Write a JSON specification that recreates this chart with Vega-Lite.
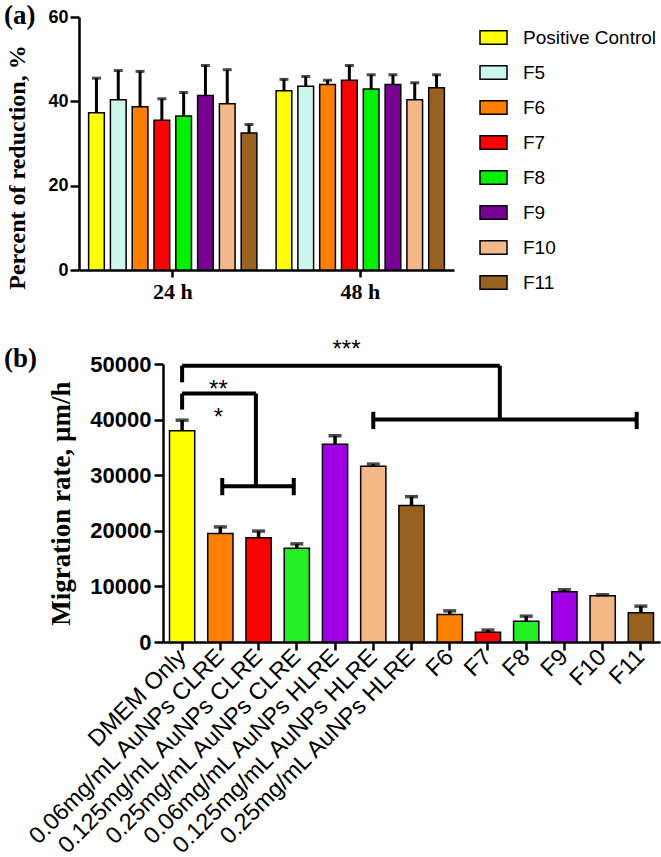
{
  "$schema": "https://vega.github.io/schema/vega-lite/v6.json",
  "padding": {"left": 4, "top": 2, "right": 0, "bottom": 0},
  "background": "white",
  "config": {
    "view": {"stroke": null},
    "axis": {"domainColor": "black", "domainWidth": 2.5, "tickColor": "black", "tickWidth": 2.5, "grid": false, "labelColor": "black", "titleColor": "black"}
  },
  "datasets": {
    "reduction": [
      {"time": "24 h", "formulation": "Positive Control", "mean": 37.3, "upper": 45.5},
      {"time": "24 h", "formulation": "F5", "mean": 40.4, "upper": 47.3},
      {"time": "24 h", "formulation": "F6", "mean": 38.7, "upper": 47.1},
      {"time": "24 h", "formulation": "F7", "mean": 35.5, "upper": 40.6},
      {"time": "24 h", "formulation": "F8", "mean": 36.5, "upper": 42.1},
      {"time": "24 h", "formulation": "F9", "mean": 41.4, "upper": 48.5},
      {"time": "24 h", "formulation": "F10", "mean": 39.4, "upper": 47.5},
      {"time": "24 h", "formulation": "F11", "mean": 32.5, "upper": 34.5},
      {"time": "48 h", "formulation": "Positive Control", "mean": 42.5, "upper": 45.2},
      {"time": "48 h", "formulation": "F5", "mean": 43.6, "upper": 45.9},
      {"time": "48 h", "formulation": "F6", "mean": 44.0, "upper": 45.0},
      {"time": "48 h", "formulation": "F7", "mean": 45.0, "upper": 48.5},
      {"time": "48 h", "formulation": "F8", "mean": 42.9, "upper": 46.3},
      {"time": "48 h", "formulation": "F9", "mean": 44.0, "upper": 46.3},
      {"time": "48 h", "formulation": "F10", "mean": 40.4, "upper": 44.4},
      {"time": "48 h", "formulation": "F11", "mean": 43.2, "upper": 46.3}
    ],
    "migration": [
      {"condition": "DMEM Only", "mean": 38000, "upper": 39900},
      {"condition": "0.06mg/mL AuNPs CLRE", "mean": 19500, "upper": 20700},
      {"condition": "0.125mg/mL AuNPs CLRE", "mean": 18750, "upper": 19950},
      {"condition": "0.25mg/mL AuNPs CLRE", "mean": 16850, "upper": 17650},
      {"condition": "0.06mg/mL AuNPs HLRE", "mean": 35550, "upper": 37100},
      {"condition": "0.125mg/mL AuNPs HLRE", "mean": 31600, "upper": 32000},
      {"condition": "0.25mg/mL AuNPs HLRE", "mean": 24550, "upper": 26150},
      {"condition": "F6", "mean": 4950, "upper": 5600},
      {"condition": "F7", "mean": 1750, "upper": 2150},
      {"condition": "F8", "mean": 3750, "upper": 4650},
      {"condition": "F9", "mean": 9050, "upper": 9400},
      {"condition": "F10", "mean": 8300, "upper": 8500},
      {"condition": "F11", "mean": 5250, "upper": 6450}
    ],
    "brackets": [
      {"x1": 0, "x2": 0, "y1": 46700, "y2": 49700},
      {"x1": 0, "x2": 8.31, "y1": 49700, "y2": 49700},
      {"x1": 8.31, "x2": 8.31, "y1": 49700, "y2": 40000},
      {"x1": 5.0, "x2": 11.89, "y1": 40000, "y2": 40000},
      {"x1": 5.0, "x2": 5.0, "y1": 38300, "y2": 41400},
      {"x1": 11.89, "x2": 11.89, "y1": 38300, "y2": 41400},
      {"x1": 0, "x2": 0, "y1": 41800, "y2": 44700},
      {"x1": 0, "x2": 1.93, "y1": 44700, "y2": 44700},
      {"x1": 1.93, "x2": 1.93, "y1": 44700, "y2": 28000},
      {"x1": 1.05, "x2": 2.92, "y1": 28000, "y2": 28000},
      {"x1": 1.05, "x2": 1.05, "y1": 26400, "y2": 29500},
      {"x1": 2.92, "x2": 2.92, "y1": 26400, "y2": 29500}
    ],
    "stars": [
      {"pos": 4.3, "level": 52500, "label": "***"},
      {"pos": 0.95, "level": 45400, "label": "**"},
      {"pos": 0.95, "level": 40200, "label": "*"}
    ]
  },
  "vconcat": [
    {
      "title": {"text": "(a)", "anchor": "start", "frame": "group", "dx": -75, "font": "Liberation Serif", "fontWeight": "bold", "fontSize": 27, "offset": -22, "color": "black"},
      "width": 375,
      "height": 253,
      "data": {"name": "reduction"},
      "encoding": {
        "x": {"field": "time", "type": "nominal", "scale": {"paddingInner": 0.07, "paddingOuter": 0.035},
              "axis": {"title": null, "labelAngle": 0, "labelFont": "Liberation Serif", "labelFontWeight": "bold", "labelFontSize": 22, "tickSize": 7, "labelPadding": 4}},
        "xOffset": {"field": "formulation", "type": "nominal", "scale": {"domain": ["Positive Control", "F5", "F6", "F7", "F8", "F9", "F10", "F11"], "paddingInner": 0.28, "paddingOuter": 0.14}}
      },
      "layer": [
        {
          "mark": {"type": "bar", "stroke": "black", "strokeWidth": 1.5},
          "encoding": {
            "y": {"field": "mean", "type": "quantitative", "scale": {"domain": [0, 60]},
                  "axis": {"title": "Percent of reduction, %", "values": [0, 20, 40, 60], "titleFont": "Liberation Serif", "titleFontWeight": "bold", "titleFontSize": 24, "labelFont": "Liberation Sans", "labelFontWeight": "bold", "labelFontSize": 18, "tickSize": 9, "labelPadding": 2, "titlePadding": 18, "titleY": 150}},
            "color": {"field": "formulation", "type": "nominal",
                      "scale": {"domain": ["Positive Control", "F5", "F6", "F7", "F8", "F9", "F10", "F11"], "range": ["#FFFF00", "#CCF7EC", "#FF8000", "#FF0000", "#00F000", "#780092", "#F5B888", "#9A6220"]},
                      "legend": {"title": null, "orient": "right", "offset": 19, "padding": 6, "symbolType": "M-1,-0.5H1V0.5H-1Z", "symbolSize": 729, "symbolStrokeColor": "black", "symbolStrokeWidth": 1.5, "symbolOpacity": 1, "labelFont": "Liberation Sans", "labelFontSize": 19, "labelColor": "black", "labelOffset": 15, "rowPadding": 10, "labelLimit": 300}}
          }
        },
        {
          "mark": {"type": "rule", "strokeWidth": 3, "color": "black"},
          "encoding": {"y": {"field": "mean", "type": "quantitative"}, "y2": {"field": "upper"}}
        },
        {
          "mark": {"type": "tick", "color": "black", "thickness": 3, "size": 9},
          "encoding": {"y": {"field": "upper", "type": "quantitative"}}
        }
      ]
    },
    {
      "title": {"text": "(b)", "anchor": "start", "frame": "group", "dx": -75, "font": "Liberation Serif", "fontWeight": "bold", "fontSize": 27, "offset": -35, "color": "black"},
      "width": 581,
      "height": 278,
      "layer": [
        {
          "data": {"name": "migration"},
          "encoding": {
            "x": {"field": "condition", "type": "nominal", "sort": null, "scale": {"range": [84, 581], "paddingInner": 0.34, "paddingOuter": 0.17},
                  "axis": {"title": null, "labelAngle": -45, "labelAlign": "right", "labelBaseline": "middle", "labelFont": "Liberation Sans", "labelFontSize": 23.5, "labelLimit": 400, "tickSize": 8, "labelPadding": 3}},
            "y": {"field": "mean", "type": "quantitative", "scale": {"domain": [0, 50000]},
                  "axis": {"title": "Migration rate, µm/h", "offset": -84, "values": [0, 10000, 20000, 30000, 40000, 50000], "format": "d", "titleFont": "Liberation Serif", "titleFontWeight": "bold", "titleFontSize": 27, "labelFont": "Liberation Sans", "labelFontWeight": "bold", "labelFontSize": 22, "tickSize": 9, "labelPadding": 3, "titlePadding": 14}}
          },
          "layer": [
            {
              "mark": {"type": "bar", "stroke": "black", "strokeWidth": 1.5},
              "encoding": {
                "color": {"field": "condition", "type": "nominal", "legend": null,
                          "scale": {"domain": ["DMEM Only", "0.06mg/mL AuNPs CLRE", "0.125mg/mL AuNPs CLRE", "0.25mg/mL AuNPs CLRE", "0.06mg/mL AuNPs HLRE", "0.125mg/mL AuNPs HLRE", "0.25mg/mL AuNPs HLRE", "F6", "F7", "F8", "F9", "F10", "F11"],
                                    "range": ["#FFFF00", "#FF8000", "#FF0000", "#22F022", "#A000E8", "#F4B886", "#98621E", "#FF8000", "#FF0000", "#22F022", "#A000E8", "#F4B886", "#98621E"]}}
              }
            },
            {
              "mark": {"type": "rule", "strokeWidth": 3.5, "color": "black"},
              "encoding": {"y2": {"field": "upper"}}
            },
            {
              "mark": {"type": "tick", "color": "black", "thickness": 3.5, "size": 13},
              "encoding": {"y": {"field": "upper", "type": "quantitative"}}
            }
          ]
        },
        {
          "data": {"name": "brackets"},
          "mark": {"type": "rule", "strokeWidth": 4, "color": "black"},
          "encoding": {
            "x": {"field": "x1", "type": "quantitative", "scale": {"domain": [-0.5, 12.5], "range": [84, 581], "nice": false, "zero": false}, "axis": null},
            "x2": {"field": "x2"},
            "y": {"field": "y1", "type": "quantitative"},
            "y2": {"field": "y2"}
          }
        },
        {
          "data": {"name": "stars"},
          "mark": {"type": "text", "font": "Liberation Sans", "fontSize": 24, "color": "black", "baseline": "middle"},
          "encoding": {
            "x": {"field": "pos", "type": "quantitative", "scale": {"domain": [-0.5, 12.5], "range": [84, 581], "nice": false, "zero": false}, "axis": null},
            "y": {"field": "level", "type": "quantitative"},
            "text": {"field": "label"}
          }
        }
      ],
      "resolve": {"scale": {"x": "independent"}}
    }
  ],
  "spacing": 36,
  "resolve": {"scale": {"color": "independent"}, "legend": {"color": "independent"}}
}
